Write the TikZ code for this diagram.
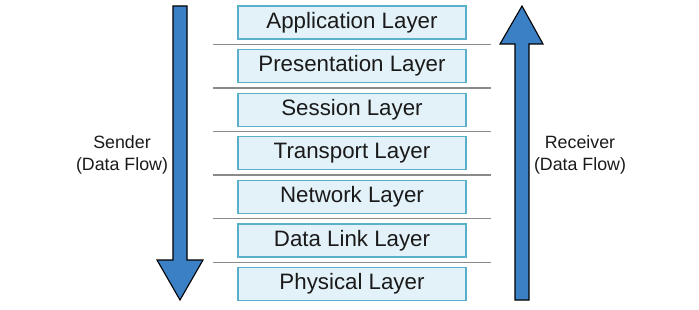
\documentclass[tikz,border=0pt]{standalone}
\usepackage{fontspec}
\setmainfont{Liberation Sans}
\usetikzlibrary{positioning,calc}
\definecolor{layerfill}{HTML}{E3F2F8}
\definecolor{layerdraw}{HTML}{5AAFCB}
\definecolor{flowblue}{HTML}{3B7FC4}
\definecolor{sepgray}{HTML}{8A8A8A}
\definecolor{inktext}{HTML}{1A1A1A}

\begin{document}
\begin{tikzpicture}[
        x=1pt, y=-1pt,
        node distance=9.3pt,
        every node/.style={text=inktext},
        layer/.style={draw=layerdraw, fill=layerfill, line width=1.3pt, minimum width=228pt, minimum height=33pt, inner sep=0pt, font=\fontsize{22.3}{26}\selectfont},
        side/.style={align=center, font=\fontsize{17.8}{21.5}\selectfont},
        sep/.style={draw=sepgray, line width=1.5pt},
        flow/.style={draw=black, fill=flowblue, line width=1.1pt, line join=miter}
      ]
        \useasboundingbox (0,0) rectangle (699,310);
        % layer stack
        \node[layer] (app) at (352,22.5) {Application Layer};
        \node[layer, below=of app]  (pres) {Presentation Layer};
        \node[layer, below=of pres] (sess) {Session Layer};
        \node[layer, below=of sess] (trans) {Transport Layer};
        \node[layer, below=of trans] (net) {Network Layer};
        \node[layer, below=of net]  (link) {Data Link Layer};
        \node[layer, below=of link] (phys) {Physical Layer};
        % separators
        \draw[sep] ($(app.south west)!0.5!(pres.north west)+(-24,0)$) -- ($(app.south east)!0.5!(pres.north east)+(24,0)$);
        \draw[sep] ($(pres.south west)!0.5!(sess.north west)+(-24,0)$) -- ($(pres.south east)!0.5!(sess.north east)+(24,0)$);
        \draw[sep] ($(sess.south west)!0.5!(trans.north west)+(-24,0)$) -- ($(sess.south east)!0.5!(trans.north east)+(24,0)$);
        \draw[sep] ($(trans.south west)!0.5!(net.north west)+(-24,0)$) -- ($(trans.south east)!0.5!(net.north east)+(24,0)$);
        \draw[sep] ($(net.south west)!0.5!(link.north west)+(-24,0)$) -- ($(net.south east)!0.5!(link.north east)+(24,0)$);
        \draw[sep] ($(link.south west)!0.5!(phys.north west)+(-24,0)$) -- ($(link.south east)!0.5!(phys.north east)+(24,0)$);
        % sender arrow (down)
        \draw[flow] (173,6) -- (187,6) -- (187,260) -- (203,260) -- (180,300) -- (157,260) -- (173,260) -- cycle;
        % receiver arrow (up)
        \draw[flow] (515,300) -- (529,300) -- (529,44) -- (543,44) -- (522,6) -- (500,44) -- (515,44) -- cycle;
        \node[side] (sender) at (122,155) {Sender\\(Data Flow)};
        \node[side] (receiver) at (580,155) {Receiver\\(Data Flow)};
      \end{tikzpicture}
\end{document}
